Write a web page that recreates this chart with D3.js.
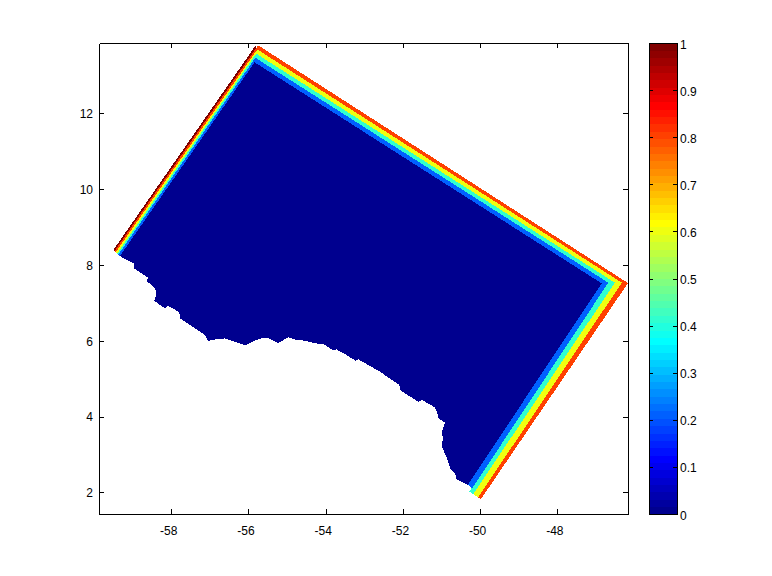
<!DOCTYPE html>
<html>
<head>
<meta charset="utf-8">
<script src="https://cdn.jsdelivr.net/npm/d3@7"></script>
<style>
html,body{margin:0;padding:0;background:#fff;}
svg{display:block;}
text{font-family:"Liberation Sans",Arial,sans-serif;font-size:12px;fill:#000;}
</style>
</head>
<body>
<svg id="chart" width="772" height="576"></svg>
<script>
const xTicks = [-58,-56,-54,-52,-50,-48];
const yTicks = [2,4,6,8,10,12];
const cbTicks = [0,0.1,0.2,0.3,0.4,0.5,0.6,0.7,0.8,0.9,1];
const cbLabels = ["0","0.1","0.2","0.3","0.4","0.5","0.6","0.7","0.8","0.9","1"];
const xDomain = [-59.87,-46.17];
const yDomain = [1.43,13.85];

// Contour bands: longitude/latitude outlines, outermost first
const bandValues = [1.0,0.8,0.6,0.41,0.21];
const band100 = [[-59.50,8.39],[-55.79,13.82],[-55.84,13.34],[-59.33,8.23]];
const band80 = [[-59.47,8.36],[-55.75,13.79],[-46.17,7.52],[-49.98,1.82],[-50.05,1.87],[-46.85,7.51],[-55.84,13.34],[-59.33,8.23]];
const band60 = [[-59.44,8.33],[-55.77,13.68],[-46.33,7.53],[-50.05,1.87],[-50.18,1.95],[-46.85,7.51],[-55.84,13.34],[-59.33,8.23]];
const band40 = [[-59.40,8.30],[-55.80,13.57],[-46.51,7.53],[-50.18,1.95],[-50.28,2.02],[-46.85,7.51],[-55.84,13.34],[-59.33,8.23]];
const band20 = [[-59.37,8.27],[-55.82,13.46],[-46.68,7.53],[-50.21,2.10],[-50.32,2.20],[-46.85,7.51],[-55.84,13.34],[-59.33,8.23]];

// Zero-valued region, with its irregular coastline
const zeroValue = 0;
const zeroRegion = [[-55.84,13.34],[-46.85,7.51],[-50.32,2.20],[-50.61,2.35],[-50.65,2.50],[-50.78,2.64],[-50.84,2.85],
 [-50.93,3.07],[-51.00,3.25],[-50.95,3.43],[-51.00,3.56],[-50.95,3.73],[-50.91,3.84],[-51.08,3.95],[-51.12,4.13],
 [-51.17,4.24],[-51.51,4.44],[-51.60,4.39],[-52.08,4.70],[-52.09,4.83],[-52.59,5.18],[-53.16,5.51],[-53.22,5.47],
 [-53.54,5.67],[-53.72,5.77],[-53.80,5.74],[-54.06,5.91],[-54.28,5.93],[-54.54,6.00],[-54.75,6.02],[-54.97,6.09],
 [-55.05,6.05],[-55.23,5.93],[-55.46,6.06],[-55.66,6.06],[-55.79,6.02],[-56.09,5.88],[-56.35,5.97],[-56.61,6.06],
 [-56.95,6.02],[-57.04,5.99],[-57.13,6.15],[-57.77,6.59],[-57.79,6.75],[-58.08,6.92],[-58.16,6.85],[-58.44,7.05],
 [-58.38,7.25],[-58.42,7.38],[-58.64,7.58],[-58.60,7.66],[-58.97,7.91],[-58.97,8.04],[-59.33,8.23]];

function jet(v){
  const n = Math.min(64, Math.floor(v*64)+1);           // 64-level colormap index
  const ramp = t => Math.round(255*Math.max(0,Math.min(1,t)));
  const t = n/64;
  const r = ramp(Math.min(4*t-1.5, -4*t+4.5));
  const g = ramp(Math.min(4*t-0.5, -4*t+3.5));
  const b = ramp(Math.min(4*t+0.5, -4*t+2.5));
  return `rgb(${r},${g},${b})`;
}

const svg = d3.select("#chart");
const L=99,R=628,T=43,B=514;
const x = d3.scaleLinear().domain(xDomain).range([L,R]);
const y = d3.scaleLinear().domain(yDomain).range([B,T]);
const line = d3.line().x(d=>x(d[0])).y(d=>y(d[1])).curve(d3.curveLinearClosed);

const map = svg.append("g").attr("shape-rendering","crispEdges");
[band100,band80,band60,band40,band20].forEach((poly,i)=>{
  map.append("path").attr("d",line(poly)).attr("fill",jet(bandValues[i]));
});
map.append("path").attr("d",line(zeroRegion)).attr("fill",jet(zeroValue));

function styleAxis(g){
  g.selectAll("path,line").attr("stroke","#000").attr("stroke-width",1).attr("shape-rendering","crispEdges");
  g.selectAll("text").attr("fill","#000");
}
svg.append("g").attr("transform",`translate(0,${B})`)
  .call(d3.axisBottom(x).tickValues(xTicks).tickSize(-5).tickSizeOuter(0).tickPadding(12).tickFormat(d=>String(d)))
  .call(styleAxis).selectAll("text").attr("dx",-3).style("font-family",'"Liberation Sans"').style("font-size","12px");
svg.append("g").attr("transform",`translate(0,${T})`)
  .call(d3.axisTop(x).tickValues(xTicks).tickSize(-5).tickSizeOuter(0).tickFormat("")).call(styleAxis);
svg.append("g").attr("transform",`translate(${L},0)`)
  .call(d3.axisLeft(y).tickValues(yTicks).tickSize(-5).tickSizeOuter(0).tickPadding(6).tickFormat(d=>String(d)))
  .call(styleAxis).selectAll("text").attr("dy","0.36em").style("font-family",'"Liberation Sans"').style("font-size","12px");
svg.append("g").attr("transform",`translate(${R},0)`)
  .call(d3.axisRight(y).tickValues(yTicks).tickSize(-5).tickSizeOuter(0).tickFormat("")).call(styleAxis);

// Colour bar
const CL=649,CR=677;
const c = d3.scaleLinear().domain([0,1]).range([B,T]);
svg.append("g").attr("shape-rendering","crispEdges").selectAll("rect")
  .data(d3.range(64)).join("rect")
  .attr("x",CL).attr("width",CR-CL)
  .attr("y",i=>c((i+1)/64)).attr("height",i=>c(i/64)-c((i+1)/64)+0.5)
  .attr("fill",i=>jet(i/64));
svg.append("g").attr("transform",`translate(${CR},0)`)
  .call(d3.axisRight(c).tickValues(cbTicks).tickSize(-4).tickSizeOuter(0).tickPadding(3).tickFormat((d,i)=>cbLabels[i]))
  .call(styleAxis).selectAll("text").attr("dy","0.42em").style("font-family",'"Liberation Sans"').style("font-size","12px");
svg.append("g").attr("transform",`translate(${CL},0)`)
  .call(d3.axisLeft(c).tickValues(cbTicks).tickSize(-4).tickSizeOuter(0).tickFormat("")).call(styleAxis);
svg.append("rect").attr("x",CL).attr("y",T).attr("width",CR-CL).attr("height",B-T)
  .attr("fill","none").attr("stroke","#000").attr("shape-rendering","crispEdges");
</script>
</body>
</html>
